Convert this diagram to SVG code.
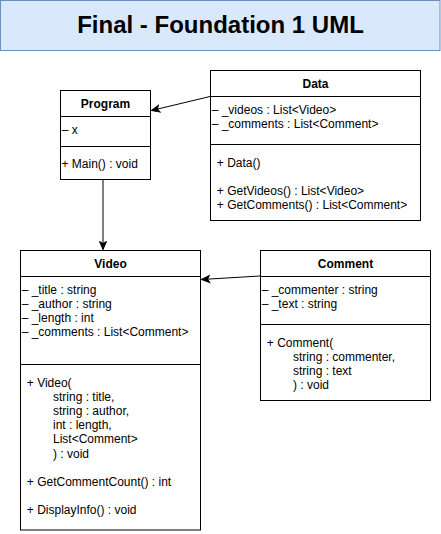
<svg xmlns="http://www.w3.org/2000/svg" width="441" height="534" viewBox="0 0 441 534">
<defs>
<style>
.box{fill:#ffffff;stroke:#000000;stroke-width:1}
.ln{stroke:#000000;stroke-width:1;fill:none}
.t{font-family:"Liberation Sans",Arial,Helvetica,sans-serif;font-size:12px;fill:#000000}
.h{font-family:"Liberation Sans",Arial,Helvetica,sans-serif;font-size:12px;font-weight:bold;fill:#000000;text-anchor:middle}
.title{font-family:"Liberation Sans",Arial,Helvetica,sans-serif;font-size:24px;font-weight:bold;fill:#000000;text-anchor:middle}
.conn{stroke:#000000;stroke-width:1;fill:none}
</style>
<marker id="arrow" markerUnits="userSpaceOnUse" markerWidth="10" markerHeight="10" viewBox="-1 -5 10 10" refX="8" refY="0" orient="auto">
<path d="M0,-3.5 L8,0 L0,3.5 L2,0 Z" fill="#000000" stroke="#000000" stroke-width="1"/>
</marker>
</defs>
<rect width="441" height="534" fill="#ffffff"/>

<g id="title">
<rect x="0.5" y="0.5" width="439.5" height="50" fill="#dae8fc" stroke="#6c8ebf" stroke-width="1"/>
<text class="title" x="220.5" y="33">Final - Foundation 1 UML</text>
</g>

<g id="connectors">
<line class="conn" x1="210" y1="96.5" x2="151.5" y2="110.5" marker-end="url(#arrow)"/>
<line class="conn" x1="103" y1="180" x2="103" y2="249.5" marker-end="url(#arrow)"/>
<line class="conn" x1="260" y1="276" x2="201.5" y2="279.5" marker-end="url(#arrow)"/>
</g>

<g id="program">
<rect class="box" x="60.5" y="90.5" width="90" height="89"/>
<line class="ln" x1="60.5" y1="116.5" x2="150.5" y2="116.5"/>
<line class="ln" x1="60.5" y1="146.5" x2="150.5" y2="146.5"/>
<text class="h" x="105.5" y="107.5">Program</text>
<text class="t" x="61.7" y="134">– x</text>
<text class="t" x="61.5" y="168">+ Main() : void</text>
</g>

<g id="data">
<rect class="box" x="210.5" y="70.5" width="210" height="150"/>
<line class="ln" x1="210.5" y1="96.5" x2="420.5" y2="96.5"/>
<line class="ln" x1="210.5" y1="144.5" x2="420.5" y2="144.5"/>
<text class="h" x="315.5" y="87.5">Data</text>
<text class="t" x="211.7" y="114.3">– _videos : List&lt;Video&gt;</text>
<text class="t" x="211.7" y="128.4">– _comments : List&lt;Comment&gt;</text>
<text class="t" x="216.8" y="166.7">+ Data()</text>
<text class="t" x="216.8" y="195">+ GetVideos() : List&lt;Video&gt;</text>
<text class="t" x="216.8" y="209.2">+ GetComments() : List&lt;Comment&gt;</text>
</g>

<g id="video">
<rect class="box" x="20.5" y="250.5" width="180" height="279.5"/>
<line class="ln" x1="20.5" y1="276.5" x2="200.5" y2="276.5"/>
<line class="ln" x1="20.5" y1="364.5" x2="200.5" y2="364.5"/>
<text class="h" x="110.5" y="267.5">Video</text>
<text class="t" x="21.7" y="294.3">– _title : string</text>
<text class="t" x="21.7" y="308.3">– _author : string</text>
<text class="t" x="21.7" y="322.3">– _length : int</text>
<text class="t" x="21.7" y="336.3">– _comments : List&lt;Comment&gt;</text>
<text class="t" x="26.8" y="386.5">+ Video(</text>
<text class="t" x="53" y="400.7">string : title,</text>
<text class="t" x="53" y="414.9">string : author,</text>
<text class="t" x="53" y="429.1">int : length,</text>
<text class="t" x="53" y="443.3">List&lt;Comment&gt;</text>
<text class="t" x="53" y="457.5">) : void</text>
<text class="t" x="26.8" y="485.9">+ GetCommentCount() : int</text>
<text class="t" x="26.8" y="514.3">+ DisplayInfo() : void</text>
</g>

<g id="comment">
<rect class="box" x="260.5" y="250.5" width="170" height="150"/>
<line class="ln" x1="260.5" y1="276.5" x2="430.5" y2="276.5"/>
<line class="ln" x1="260.5" y1="324.5" x2="430.5" y2="324.5"/>
<text class="h" x="345.5" y="267.5">Comment</text>
<text class="t" x="261.7" y="294.3">– _commenter : string</text>
<text class="t" x="261.7" y="308.3">– _text : string</text>
<text class="t" x="266.8" y="346.7">+ Comment(</text>
<text class="t" x="293" y="360.7">string : commenter,</text>
<text class="t" x="293" y="374.9">string : text</text>
<text class="t" x="293" y="389.1">) : void</text>
</g>
</svg>
